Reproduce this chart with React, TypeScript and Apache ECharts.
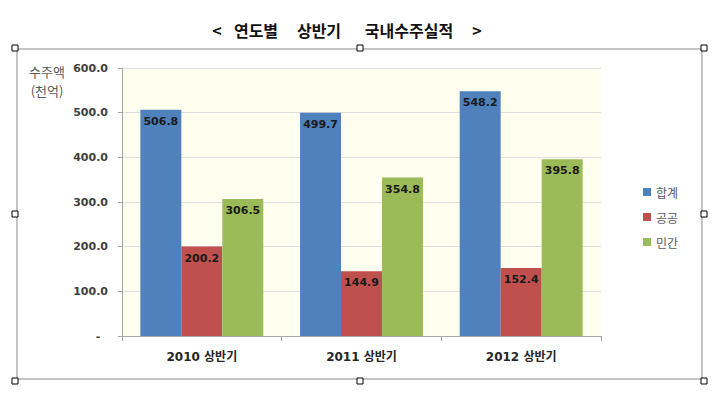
import React, { useEffect, useRef } from "react";
import * as echarts from "echarts";

const categories = ["2010 상반기", "2011 상반기", "2012 상반기"];
const seriesNames = ["합계", "공공", "민간"];
const totalValues = [506.8, 499.7, 548.2];
const publicValues = [200.2, 144.9, 152.4];
const privateValues = [306.5, 354.8, 395.8];
const yTicks = [0, 100, 200, 300, 400, 500, 600];
const titleWords = ["<", "연도별", "상반기", "국내수주실적", ">"];
const yAxisTitle = ["수주액", "(천억)"];

const colors = ["#4F81BD", "#C0504D", "#9BBB59"];
const numFont = "'DejaVu Sans', 'Noto Sans CJK KR', sans-serif";
const krFont = "'Noto Sans CJK KR', 'DejaVu Sans', sans-serif";

export default function App() {
  const ref = useRef<HTMLDivElement>(null);
  useEffect(() => {
    if (!ref.current) return;
    const chart = echarts.init(ref.current, null, { renderer: "svg" });
    const titleCenters = [217, 256, 319, 409, 477];
    const handles = [
      [15, 48], [360, 48], [704, 48],
      [15, 214], [704, 214],
      [15, 381], [360, 381], [704, 381],
    ];
    const label = {
      show: true,
      position: "insideTop",
      distance: 6,
      fontFamily: numFont,
      fontWeight: "bold",
      fontSize: 11,
      color: "#1a1a1a",
      formatter: (p: any) => Number(p.value).toFixed(1),
    };
    const data = [totalValues, publicValues, privateValues];
    chart.setOption({
      animation: false,
      backgroundColor: "#ffffff",
      color: colors,
      grid: {
        left: 122,
        top: 68,
        width: 479,
        height: 268,
        show: true,
        backgroundColor: "#FFFFF0",
        borderWidth: 0,
      },
      legend: {
        data: seriesNames,
        orient: "vertical",
        left: 638,
        top: 180,
        icon: "rect",
        itemWidth: 8,
        itemHeight: 8,
        itemGap: 11,
        textStyle: { fontFamily: krFont, fontSize: 12, color: "#595959", lineHeight: 14 },
      },
      xAxis: {
        type: "category",
        data: categories,
        axisLine: { lineStyle: { color: "#a6a6a6" } },
        axisTick: { show: true, length: 5, lineStyle: { color: "#a6a6a6" } },
        axisLabel: {
          margin: 15,
          fontFamily: numFont,
          fontWeight: "bold",
          fontSize: 12,
          color: "#262626",
        },
      },
      yAxis: {
        type: "value",
        min: yTicks[0],
        max: yTicks[yTicks.length - 1],
        interval: 100,
        axisLine: { show: true, lineStyle: { color: "#a6a6a6" } },
        axisTick: { show: true, length: 4, lineStyle: { color: "#a6a6a6" } },
        splitLine: { lineStyle: { color: "#dedede" } },
        axisLabel: {
          margin: 14,
          fontFamily: numFont,
          fontWeight: "bold",
          fontSize: 11,
          color: "#404040",
          formatter: (v: number) => (v === 0 ? "-  " : v.toFixed(1)),
        },
      },
      series: seriesNames.map((name, i) => ({
        name,
        type: "bar",
        data: data[i],
        barGap: "0%",
        barCategoryGap: "23%",
        label,
      })),
      graphic: [
        {
          type: "rect",
          shape: { x: 17, y: 49, width: 685, height: 330 },
          style: { fill: "none", stroke: "#c4c4c4", lineWidth: 2 },
          silent: true,
        },
        ...titleWords.map((w, i) => ({
          type: "text",
          x: titleCenters[i],
          y: 30,
          style: {
            text: w,
            fontFamily: krFont,
            fontWeight: "bold",
            fontSize: 16,
            fill: "#111111",
            align: "center",
            verticalAlign: "middle",
          },
        })),
        ...yAxisTitle.map((t, i) => ({
          type: "text",
          x: 47,
          y: 71 + i * 19,
          style: {
            text: t,
            fontFamily: krFont,
            fontSize: 13,
            fill: "#595959",
            align: "center",
            verticalAlign: "middle",
          },
        })),
        ...handles.map(([cx, cy]) => ({
          type: "rect",
          shape: { x: cx - 3, y: cy - 3, width: 6, height: 6 },
          style: { fill: "#ffffff", stroke: "#000000", lineWidth: 1 },
          z: 100,
        })),
      ],
    });
    return () => chart.dispose();
  }, []);
  return (
    <div
      ref={ref}
      style={{ position: "fixed", left: 0, top: 0, width: 719, height: 396 }}
    />
  );
}
